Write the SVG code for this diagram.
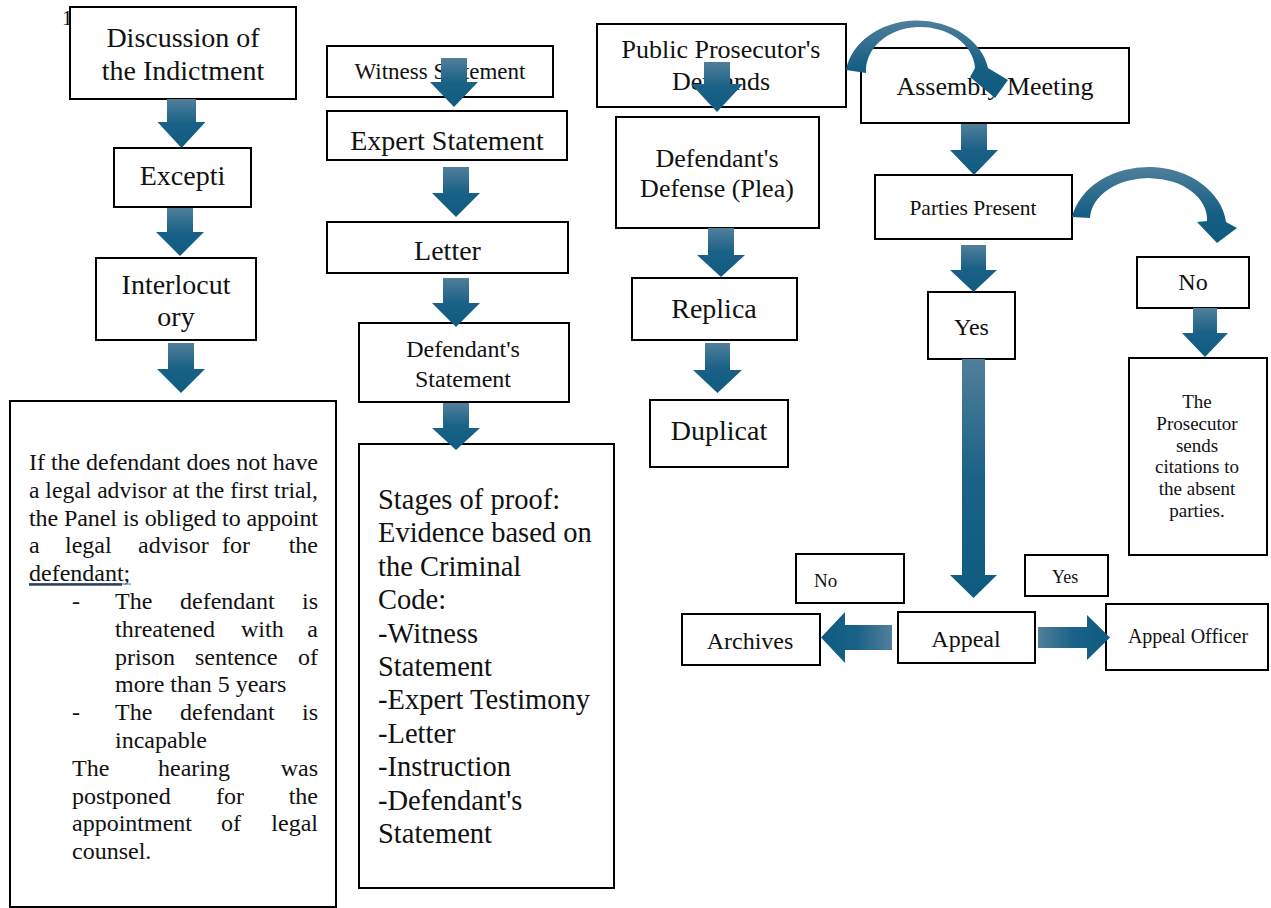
<svg xmlns="http://www.w3.org/2000/svg" width="1271" height="908" viewBox="0 0 1271 908">
<defs>
<linearGradient id="gv" x1="0" y1="0" x2="0" y2="1">
<stop offset="0" stop-color="#517f9a"/><stop offset="0.5" stop-color="#1a6187"/><stop offset="1" stop-color="#0f5b80"/>
</linearGradient>
<linearGradient id="gl" x1="1" y1="0" x2="0" y2="0">
<stop offset="0" stop-color="#517f9a"/><stop offset="0.5" stop-color="#1a6187"/><stop offset="1" stop-color="#0f5b80"/>
</linearGradient>
<linearGradient id="gr" x1="0" y1="0" x2="1" y2="0">
<stop offset="0" stop-color="#517f9a"/><stop offset="0.5" stop-color="#1a6187"/><stop offset="1" stop-color="#0f5b80"/>
</linearGradient>
<linearGradient id="gc" x1="0" y1="0" x2="0" y2="1">
<stop offset="0" stop-color="#4f7f9c"/><stop offset="0.6" stop-color="#165f84"/><stop offset="1" stop-color="#0f5a7e"/>
</linearGradient>
</defs>
<style>
.box{fill:#fff;stroke:#000;stroke-width:2}
.t{font-family:"Liberation Serif","Times New Roman",serif;fill:#111}
.c{text-anchor:middle}
.e{text-anchor:end}
.f28{font-size:28px}.f26{font-size:26px}.f24{font-size:24px}.f23{font-size:23px}.f21{font-size:21.5px}.f20{font-size:20px}.f19{font-size:19px}.f18{font-size:18px}
.av{fill:url(#gv)}
</style>
<rect width="1271" height="908" fill="#fff"/>
<text class="t" x="62" y="25" font-size="21">1</text>

<g id="n-discussion"><rect class="box" x="70" y="7" width="226" height="92"/>
<text class="t c f28" x="183" y="47">Discussion of</text><text class="t c f28" x="183" y="80">the Indictment</text></g>
<g id="n-excepti"><rect class="box" x="114" y="148" width="137" height="59"/>
<text class="t c f28" x="182.5" y="185">Excepti</text></g>
<g id="n-interlocutory"><rect class="box" x="96" y="258" width="160" height="82"/>
<text class="t c f28" x="176" y="294">Interlocut</text><text class="t c f28" x="176" y="326">ory</text></g>
<g id="n-legal-advisor"><rect class="box" x="10" y="401" width="326" height="506"/>
<g class="t f24">
<text x="29" y="470" textLength="289" lengthAdjust="spacing">If the defendant does not have</text>
<text x="29" y="497.8" textLength="289" lengthAdjust="spacingAndGlyphs">a legal advisor at the first trial,</text>
<text x="29" y="525.6" textLength="289" lengthAdjust="spacing">the Panel is obliged to appoint</text>
<text x="29" y="553.4">a</text><text x="65" y="553.4">legal</text><text x="138" y="553.4">advisor</text><text x="222" y="553.4">for</text><text class="e" x="318" y="553.4">the</text>
<text x="29" y="581.2" text-decoration="underline">defendant;</text>
<text x="72" y="609">-</text><text x="115" y="609">The</text><text x="180" y="609">defendant</text><text class="e" x="318" y="609">is</text>
<text x="115" y="636.8">threatened</text><text x="241" y="636.8">with</text><text class="e" x="318" y="636.8">a</text>
<text x="115" y="664.6">prison</text><text x="195" y="664.6">sentence</text><text class="e" x="318" y="664.6">of</text>
<text x="115" y="692.4">more than 5 years</text>
<text x="72" y="720.2">-</text><text x="115" y="720.2">The</text><text x="180" y="720.2">defendant</text><text class="e" x="318" y="720.2">is</text>
<text x="115" y="748">incapable</text>
<text x="72" y="775.8">The</text><text x="158" y="775.8">hearing</text><text class="e" x="318" y="775.8">was</text>
<text x="72" y="803.6">postponed</text><text x="216" y="803.6">for</text><text class="e" x="318" y="803.6">the</text>
<text x="72" y="831.4">appointment</text><text x="221" y="831.4">of</text><text class="e" x="318" y="831.4">legal</text>
<text x="72" y="859.2">counsel.</text>
</g>
<line x1="29" y1="584" x2="130" y2="584" stroke="#4472c4" stroke-width="1.2"/>
</g>

<g id="n-witness"><rect class="box" x="327" y="46" width="226" height="51"/>
<text class="t c f23" x="440" y="79">Witness Statement</text></g>
<g id="n-expert"><rect class="box" x="327" y="111" width="240" height="49"/>
<text class="t c f28" x="447" y="150">Expert Statement</text></g>
<g id="n-letter"><rect class="box" x="327" y="222" width="241" height="51"/>
<text class="t c f28" x="447.5" y="260">Letter</text></g>
<g id="n-def-statement"><rect class="box" x="359" y="323" width="210" height="79"/>
<text class="t c f24" x="463" y="357">Defendant's</text><text class="t c f24" x="463" y="387">Statement</text></g>
<g id="n-stages"><rect class="box" x="359" y="444" width="255" height="444"/>
<g class="t" font-size="28.5">
<text x="378" y="509">Stages of proof:</text>
<text x="378" y="542.4">Evidence based on</text>
<text x="378" y="575.8">the Criminal</text>
<text x="378" y="609.2">Code:</text>
<text x="378" y="642.6">-Witness</text>
<text x="378" y="676">Statement</text>
<text x="378" y="709.4">-Expert Testimony</text>
<text x="378" y="742.8">-Letter</text>
<text x="378" y="776.2">-Instruction</text>
<text x="378" y="809.6">-Defendant's</text>
<text x="378" y="843">Statement</text>
</g></g>

<g id="n-prosecutor-demands"><rect class="box" x="597" y="24" width="249" height="83"/>
<text class="t c f26" x="721" y="58">Public Prosecutor's</text><text class="t c f26" x="721" y="90">Demands</text></g>
<g id="n-defense"><rect class="box" x="616" y="117" width="203" height="111"/>
<text class="t c f26" x="717" y="167">Defendant's</text><text class="t c f26" x="717" y="197">Defense (Plea)</text></g>
<g id="n-replica"><rect class="box" x="632" y="278" width="165" height="62"/>
<text class="t c f28" x="714" y="318">Replica</text></g>
<g id="n-duplicat"><rect class="box" x="650" y="400" width="138" height="67"/>
<text class="t c f28" x="719" y="440">Duplicat</text></g>

<g id="n-assembly"><rect class="box" x="861" y="48" width="268" height="75"/>
<text class="t c f26" x="995" y="95">Assembly Meeting</text></g>
<g id="n-parties"><rect class="box" x="875" y="175" width="197" height="64"/>
<text class="t c f21" x="973" y="215">Parties Present</text></g>
<g id="n-yes-top"><rect class="box" x="928" y="292" width="87" height="67"/>
<text class="t c f24" x="971.5" y="335">Yes</text></g>
<g id="n-no-right"><rect class="box" x="1137" y="257" width="112" height="51"/>
<text class="t c f24" x="1193" y="290">No</text></g>
<g id="n-citations"><rect class="box" x="1129" y="358" width="138" height="197"/>
<g class="t c f19"><text x="1197" y="408">The</text><text x="1197" y="430">Prosecutor</text><text x="1197" y="452">sends</text><text x="1197" y="473">citations to</text><text x="1197" y="495">the absent</text><text x="1197" y="517">parties.</text></g></g>
<g id="n-no-label"><rect class="box" x="796" y="554" width="108" height="49"/>
<text class="t f19" x="814" y="587">No</text></g>
<g id="n-yes-label"><rect class="box" x="1025" y="555" width="83" height="41"/>
<text class="t f18" x="1052" y="583">Yes</text></g>
<g id="n-archives"><rect class="box" x="682" y="614" width="138" height="51"/>
<text class="t c f24" x="750" y="649">Archives</text></g>
<g id="n-appeal"><rect class="box" x="898" y="612" width="137" height="51"/>
<text class="t c f24" x="966" y="647">Appeal</text></g>
<g id="n-appeal-officer"><rect class="box" x="1106" y="604" width="162" height="66"/>
<text class="t c f20" x="1188" y="643">Appeal Officer</text></g>

<g id="connectors">
<polygon class="av" points="167,99 196,99 196,122 205.5,122 181.5,148 157.5,122 167,122"/>
<polygon class="av" points="167,208 193,208 193,232 204,232 180,256 156,232 167,232"/>
<polygon class="av" points="168,343 194,343 194,369 205,369 181,393 157,369 168,369"/>
<polygon class="av" points="441,58 467,58 467,82 478,82 454,107 430,82 441,82"/>
<polygon class="av" points="443,167 469,167 469,193 480,193 456,217 432,193 443,193"/>
<polygon class="av" points="443,278 469,278 469,303 480,303 456,327 432,303 443,303"/>
<polygon class="av" points="443,403 469,403 469,428 480,428 456,450 432,428 443,428"/>
<polygon class="av" points="704,62 730,62 730,84 743,84 717,112 691,84 704,84"/>
<polygon class="av" points="708,228 734,228 734,255 745,255 721,277 697,255 708,255"/>
<polygon class="av" points="705,343 730,343 730,370 742,370 717.5,393 693,370 705,370"/>
<polygon class="av" points="961,124 987,124 987,150 998,150 974,175 950,150 961,150"/>
<polygon class="av" points="961,245 986,245 986,270 997,270 973.5,292 950,270 961,270"/>
<polygon class="av" points="1193,308 1217,308 1217,333 1228,333 1205,357 1182,333 1193,333"/>
<polygon class="av" points="962,359 985,359 985,575 997,575 973.5,598 950,575 962,575"/>
<polygon fill="url(#gl)" points="892,625 845,625 845,612 821,637.5 845,663 845,650 892,650"/>
<polygon fill="url(#gr)" points="1038,627 1087,627 1087,615 1110,637.5 1087,660 1087,648 1038,648"/>
<path fill="url(#gc)" d="M846,70 A72,58 0 0 1 988,68 L1008,80 L995,98 L970,77 L975,68 A54,43 0 0 0 866,73 Z"/>
<path fill="url(#gc)" d="M1072,217 A78,62 0 0 1 1226,222 L1237,228 L1217,243 L1197,222 L1207,221 A58,41 0 0 0 1090,218 Z"/>
</g>
</svg>
